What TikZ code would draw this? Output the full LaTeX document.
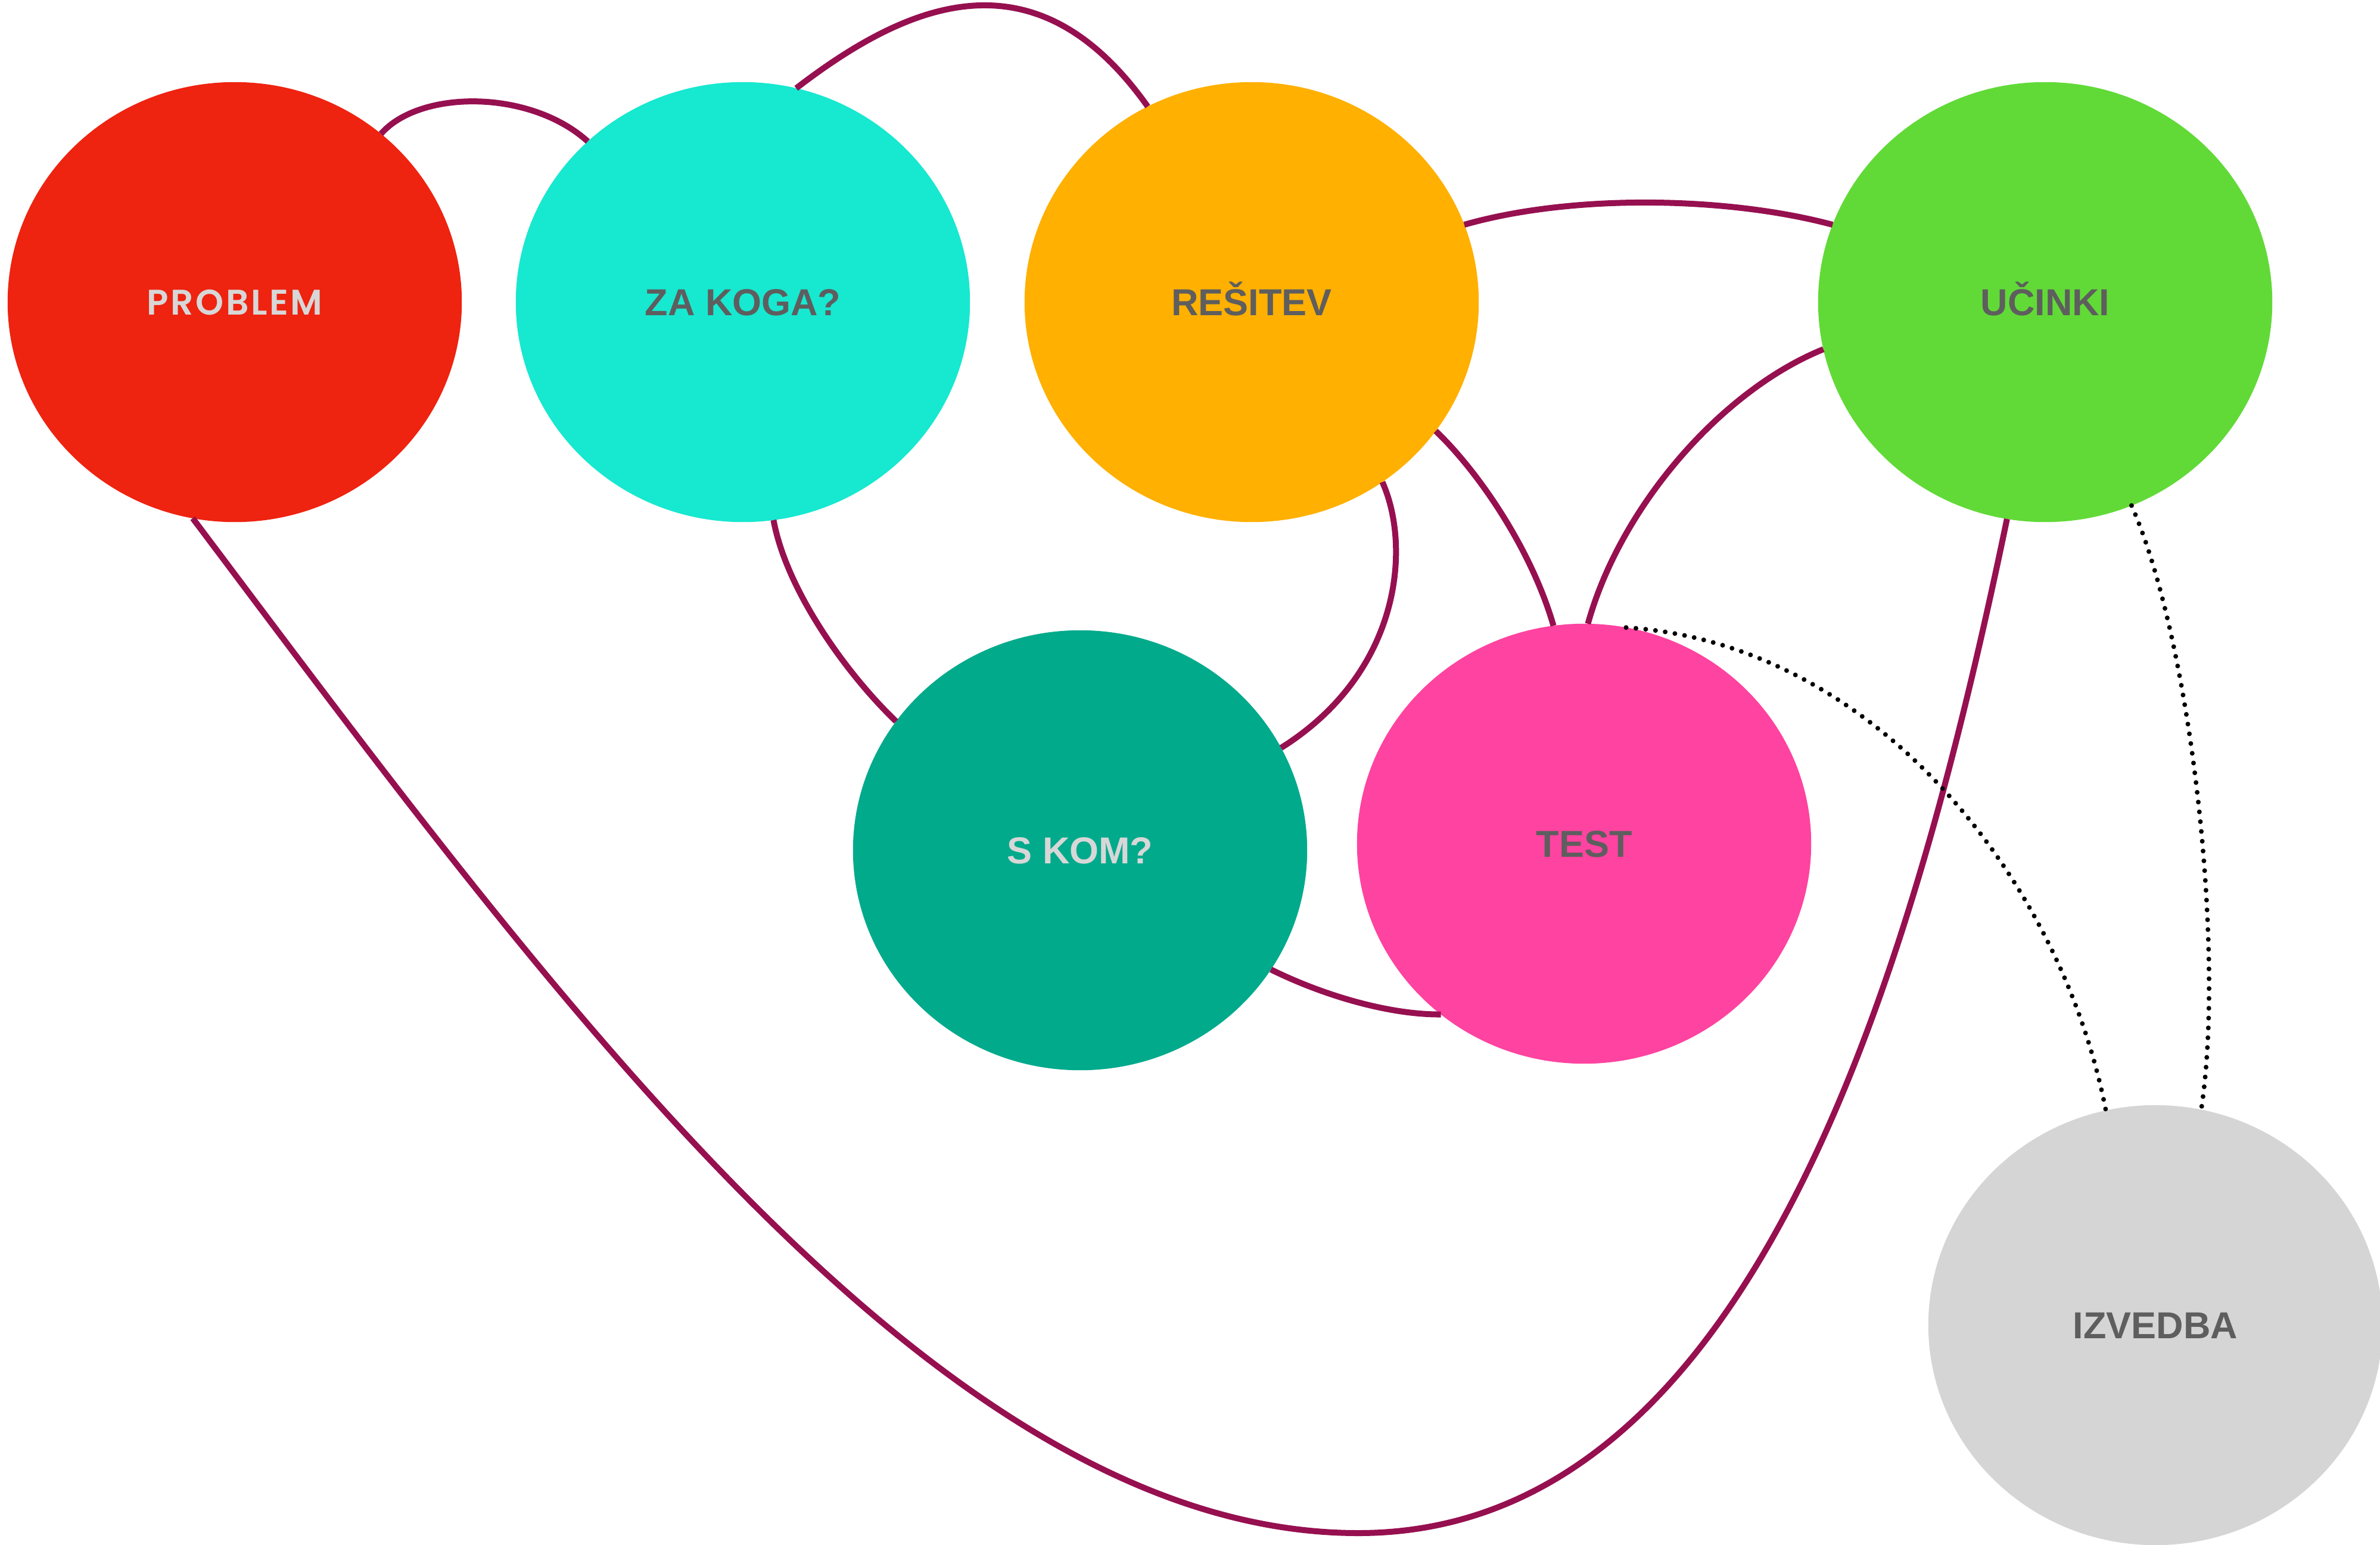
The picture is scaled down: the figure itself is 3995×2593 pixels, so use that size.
\documentclass[tikz,border=0pt]{standalone}
\usepackage{fontspec}
\usetikzlibrary{shapes.geometric}
\newfontfamily\lsans{Liberation Sans}
\IfFontExistsTF{Poppins SemiBold}{\newfontfamily\popp{Poppins SemiBold}[LetterSpace=6]}{%
  \IfFontExistsTF{Poppins Medium}{\newfontfamily\popp{Poppins Medium}[LetterSpace=6,FakeBold=1.2]}{%
    \newfontfamily\popp{Poppins}[LetterSpace=6,FakeBold=2]}}
\definecolor{cRed}{HTML}{EE2310}
\definecolor{cCyan}{HTML}{17E8D0}
\definecolor{cOrange}{HTML}{FFB000}
\definecolor{cGreen}{HTML}{61DA37}
\definecolor{cTeal}{HTML}{02AA8C}
\definecolor{cPink}{HTML}{FF43A0}
\definecolor{cGray}{HTML}{D5D5D5}
\definecolor{tDark}{HTML}{5E5E5E}
\definecolor{tLight}{HTML}{D7D7D7}
\definecolor{cLine}{HTML}{961050}
\tikzset{
  blob/.style={ellipse, minimum width=7.62cm, minimum height=7.38cm, inner sep=0pt, outer sep=0pt,
    text height=0.45cm, text depth=0cm, font=\lsans\bfseries\fontsize{17.9pt}{21pt}\selectfont, text=tDark},
  conn/.style={draw=cLine, line width=0.1cm},
  dots/.style={draw=black, line width=0.08cm, line cap=round, dash pattern=on 0pt off 0.165cm},
}
\begin{document}
\begin{tikzpicture}[x=0.01cm, y=-0.01cm]
\useasboundingbox[fill=white] (0,0) rectangle (3995,2593);
% nodes
\node[blob, fill=cRed, text=tLight, text height=0.42cm, font=\popp\fontsize{17pt}{20pt}\selectfont] (problem) at (394,507) {PROBLEM};
\node[blob, fill=cCyan] (zakoga) at (1247,507) {ZA KOGA?};
\node[blob, fill=cOrange] (resitev) at (2101,507) {REŠITEV};
\node[blob, fill=cGreen] (ucinki) at (3433,507) {UČINKI};
\node[blob, fill=cTeal, text=tLight] (skom) at (1813,1427) {S KOM?};
\node[blob, fill=cPink] (test) at (2659,1416) {TEST};
\node[blob, fill=cGray] (izvedba) at (3618,2224) {IZVEDBA};
% connectors
\draw[conn] (problem.49) .. controls (705,150) and (890,150) .. (zakoga.134);
\draw[conn] (zakoga.76) .. controls (1524,4) and (1738,-87) .. (resitev.118);
\draw[conn] (resitev.20) .. controls (2640,325) and (2900,330) .. (ucinki.160);
\draw[conn] (ucinki.-168) .. controls (2890,655) and (2720,850) .. (test.89);
\draw[conn] (resitev.-35) .. controls (2480,790) and (2570,920) .. (test.98);
\draw[conn] (resitev.-54) .. controls (2370,920) and (2350,1130) .. (skom.27);
\draw[conn] (zakoga.-82) .. controls (1320,990) and (1420,1130) .. (skom.145);
\draw[conn] (skom.-32) .. controls (2220,1670) and (2330,1703) .. (test.-130);
\coordinate (low) at (2280,2573);
\draw[conn] (problem.-101) .. controls (926,1671) and (1580,2573) .. (low)
  .. controls (2930,2573) and (3203,1669) .. (ucinki.-100);
\draw[dots] (test.79) .. controls (3150,1080) and (3460,1480) .. (izvedba.103);
\draw[dots] (ucinki.-67) .. controls (3680,1080) and (3735,1600) .. (izvedba.78);
\end{tikzpicture}
\end{document}
